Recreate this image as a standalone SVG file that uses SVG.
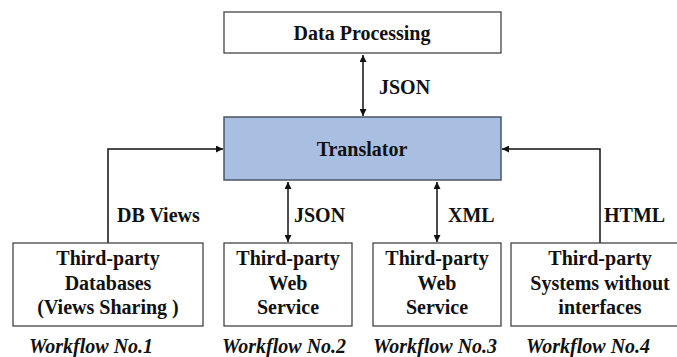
<svg xmlns="http://www.w3.org/2000/svg" width="677" height="357" viewBox="0 0 677 357">
<style>
.box{fill:#fff;stroke:#444;stroke-width:1.3}
.tr{fill:#a9bfe1;stroke:#4a5566;stroke-width:1.5}
text{font-weight:bold;font-size:20px;fill:#111}
.t{text-anchor:middle}
.wf{font-style:italic}
.c{fill:none;stroke:#111;stroke-width:1.5}
</style>
<defs>
<marker id="ah" viewBox="0 0 10 10" refX="10" refY="5" markerWidth="7" markerHeight="7" orient="auto-start-reverse" markerUnits="userSpaceOnUse">
<path d="M0,0 L10,5 L0,10 z" fill="#111"/>
</marker>
</defs>
<rect width="677" height="357" fill="#fff"/>
<g id="connectors" font-family="Liberation Serif, serif">
<line class="c" x1="363" y1="55" x2="363" y2="116" marker-start="url(#ah)" marker-end="url(#ah)"/>
<polyline class="c" points="108,243 108,149 223,149" marker-end="url(#ah)"/>
<polyline class="c" points="600,243 600,149 502,149" marker-end="url(#ah)"/>
<line class="c" x1="288" y1="182" x2="288" y2="242" marker-start="url(#ah)" marker-end="url(#ah)"/>
<line class="c" x1="437" y1="182" x2="437" y2="242" marker-start="url(#ah)" marker-end="url(#ah)"/>
<text x="379" y="94">JSON</text>
<text x="117" y="222">DB Views</text>
<text x="294" y="222">JSON</text>
<text x="448" y="222">XML</text>
<text x="604" y="222">HTML</text>
</g>
<g id="data-processing" font-family="Liberation Serif, serif">
<rect class="box" x="224" y="12" width="277" height="41"/>
<text class="t" x="362" y="40">Data Processing</text>
</g>
<g id="translator" font-family="Liberation Serif, serif">
<rect class="tr" x="224" y="117" width="277" height="63"/>
<text class="t" x="362" y="156">Translator</text>
</g>
<g id="databases" font-family="Liberation Serif, serif">
<rect class="box" x="13" y="243" width="190" height="83"/>
<text class="t" x="108" y="265">Third-party</text>
<text class="t" x="108" y="290">Databases</text>
<text class="t" x="108" y="314">(Views Sharing )</text>
</g>
<g id="webservice-json" font-family="Liberation Serif, serif">
<rect class="box" x="224" y="243" width="128" height="83"/>
<text class="t" x="288" y="265">Third-party</text>
<text class="t" x="288" y="290">Web</text>
<text class="t" x="288" y="314">Service</text>
</g>
<g id="webservice-xml" font-family="Liberation Serif, serif">
<rect class="box" x="373" y="243" width="128" height="83"/>
<text class="t" x="437" y="265">Third-party</text>
<text class="t" x="437" y="290">Web</text>
<text class="t" x="437" y="314">Service</text>
</g>
<g id="systems" font-family="Liberation Serif, serif">
<rect class="box" x="511" y="243" width="170" height="83"/>
<text class="t" x="600" y="265">Third-party</text>
<text class="t" x="600" y="290">Systems without</text>
<text class="t" x="600" y="314">interfaces</text>
</g>
<g id="workflows" font-family="Liberation Serif, serif">
<text class="wf" x="29" y="353">Workflow No.1</text>
<text class="wf" x="222" y="353">Workflow No.2</text>
<text class="wf" x="373" y="353">Workflow No.3</text>
<text class="wf" x="526" y="353">Workflow No.4</text>
</g>
</svg>
